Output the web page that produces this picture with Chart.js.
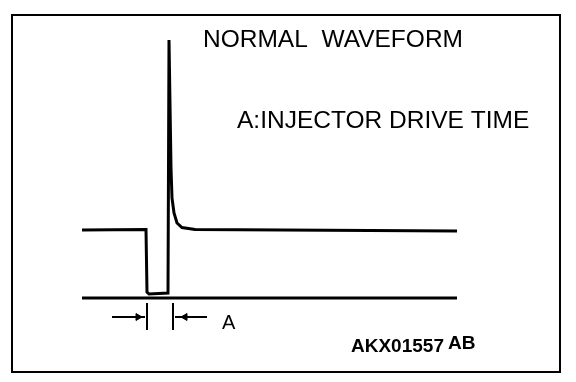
<!DOCTYPE html>
<html>
<head>
<meta charset="utf-8">
<script src="https://cdn.jsdelivr.net/npm/chart.js@4/dist/chart.umd.min.js"></script>
<style>
  body { margin: 0; background: #fff; }
  #box { width: 576px; height: 382px; }
</style>
</head>
<body>
<div id="box"><canvas id="wave" width="576" height="382"></canvas></div>
<script>
// time axis (arbitrary units) and voltage of the injector waveform
const waveTime = [7.0, 13.4, 13.5, 13.7, 15.6, 15.7, 15.9, 16.0, 16.2, 16.5, 17.0, 18.3, 44.5];
const waveVolts = [13.6, 13.7, 1.2, 0.8, 1.0, 51.6, 26.0, 20.0, 17.0, 15.0, 14.1, 13.7, 13.4];

// 0 V reference line
const groundTime = [7.0, 44.5];
const groundVolts = [0, 0];

// drive time "A" markers
const markerTime = [13.5, 16.1];
const markerVolts = [-1.0, -6.4];
const leftArrowTime = [10.0, 13.3];
const rightArrowTime = [16.3, 19.5];
const arrowVolts = -3.8;
const arrowTipTime = [12.6, 17.3];

// texts
const titleText = 'NORMAL  WAVEFORM';
const noteText = 'A:INJECTOR DRIVE TIME';
const spanLabel = 'A';
const figCode = 'AKX01557';
const figSuffix = 'AB';

function pts(xs, ys) {
    return xs.map((x, i) => ({ x: x, y: Array.isArray(ys) ? ys[i] : ys }));
}

const lineSet = (data, width) => ({
    data: data,
    borderColor: '#000',
    borderWidth: width,
    pointRadius: 0,
    tension: 0,
    fill: false
});

// frame + texts
const decor = {
    id: 'decor',
    beforeDraw(chart) {
        const c = chart.ctx;
        c.save();
        c.fillStyle = '#fff';
        c.fillRect(0, 0, chart.width, chart.height);
        c.restore();
    },
    afterDraw(chart) {
        const c = chart.ctx;
        const a = chart.chartArea;
        const sx = chart.scales.x, sy = chart.scales.y;
        c.save();
        c.strokeStyle = '#000';
        c.lineWidth = 2;
        c.strokeRect(a.left, a.top, a.right - a.left, a.bottom - a.top);

        c.fillStyle = '#000';
        c.textBaseline = 'alphabetic';
        c.font = '24.5px "Liberation Sans", Arial, sans-serif';
        c.fillText(titleText, sx.getPixelForValue(19.1), sy.getPixelForValue(50.2));
        c.fillText(noteText, sx.getPixelForValue(22.5), sy.getPixelForValue(34));
        c.font = '20px "Liberation Sans", Arial, sans-serif';
        c.fillText(spanLabel, sx.getPixelForValue(21.0), sy.getPixelForValue(-6.2));
        c.font = 'bold 19px "Liberation Sans", Arial, sans-serif';
        c.fillText(figCode, sx.getPixelForValue(33.9), sy.getPixelForValue(-10.8));
        c.fillText(figSuffix, sx.getPixelForValue(43.6), sy.getPixelForValue(-10.2));
        c.restore();
    }
};

new Chart(document.getElementById('wave'), {
    type: 'line',
    data: {
        datasets: [
            lineSet(pts(waveTime, waveVolts), 3),
            lineSet(pts(groundTime, groundVolts), 3),
            lineSet(pts([markerTime[0], markerTime[0]], markerVolts), 2),
            lineSet(pts([markerTime[1], markerTime[1]], markerVolts), 2),
            lineSet(pts(leftArrowTime, arrowVolts), 2),
            lineSet(pts(rightArrowTime, arrowVolts), 2),
            {
                data: pts(arrowTipTime, arrowVolts),
                showLine: false,
                pointStyle: 'triangle',
                rotation: [90, 270],
                pointRadius: 4,
                backgroundColor: '#000',
                borderColor: '#000',
                borderWidth: 1
            }
        ]
    },
    options: {
        responsive: false,
        animation: false,
        devicePixelRatio: 1,
        layout: { padding: { left: 12, top: 15, right: 16, bottom: 10 } },
        scales: {
            x: { type: 'linear', min: 0, max: 54.8, display: false },
            y: { type: 'linear', min: -14.8, max: 56.6, display: false }
        },
        plugins: {
            legend: { display: false },
            tooltip: { enabled: false }
        }
    },
    plugins: [decor]
});
</script>
</body>
</html>
